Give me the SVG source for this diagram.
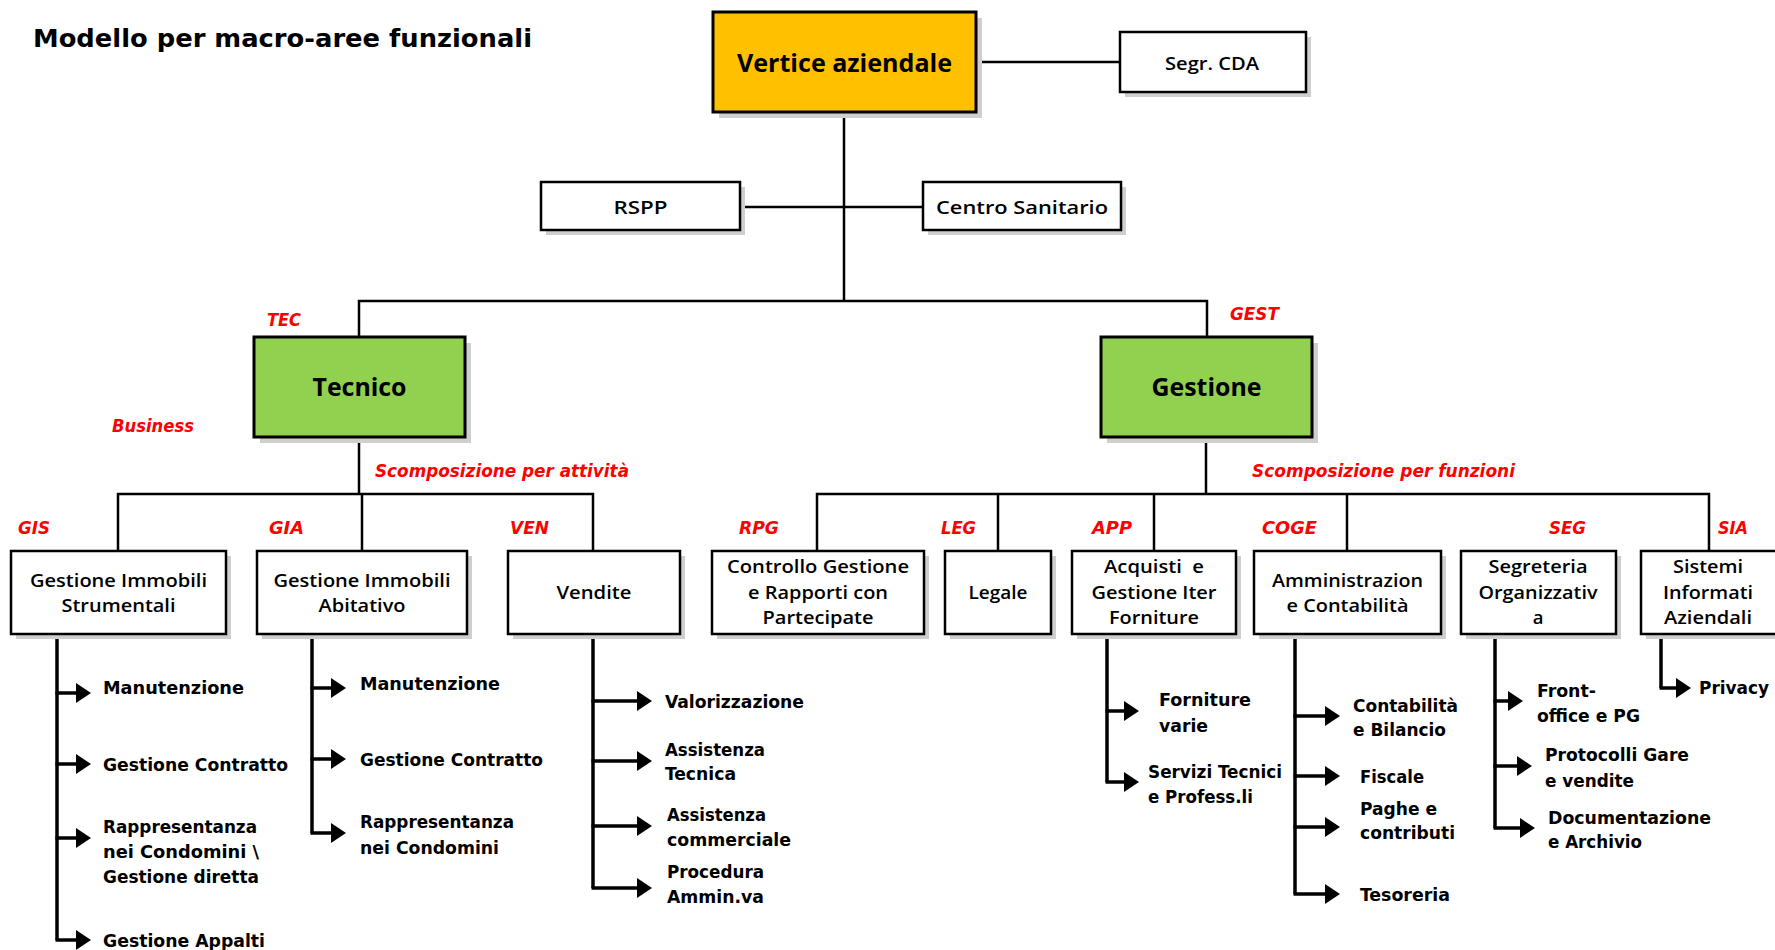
<svg xmlns="http://www.w3.org/2000/svg" width="1775" height="950" viewBox="0 0 1775 950">
<style>
.bg{fill:#fff}
.sh{fill:#cfcfcf}
.box{fill:#fff;stroke:#000;stroke-width:2.5}
.top{fill:#FFC000;stroke:#000;stroke-width:3}
.grn{fill:#92D050;stroke:#000;stroke-width:3}
.ln{fill:none;stroke:#000;stroke-width:2.5}
.br{fill:none;stroke:#000;stroke-width:3.5}
.ar{fill:none;stroke:#000;stroke-width:3.5;marker-end:url(#arr)}
.t{font-family:"Open Sans","Liberation Sans",sans-serif;font-weight:600;font-size:18.5px;fill:#000;text-anchor:middle}
.tb{font-family:"Open Sans","Liberation Sans",sans-serif;font-weight:700;font-size:25px;fill:#000;text-anchor:middle}
.s{font-family:"DejaVu Sans Condensed","DejaVu Sans",sans-serif;font-stretch:condensed;font-weight:bold;font-size:17px;fill:#000}
.r{font-family:"DejaVu Sans Condensed","DejaVu Sans",sans-serif;font-stretch:condensed;font-weight:bold;font-style:italic;font-size:17px;fill:#FF0000}
.ttl{font-family:"DejaVu Sans",sans-serif;font-weight:bold;font-size:25px;fill:#000}
</style>
<defs>
<marker id="arr" markerUnits="userSpaceOnUse" markerWidth="16" markerHeight="22" refX="7" refY="11" orient="auto">
<path d="M0,1 L15,11 L0,21 Z" fill="#000"/>
</marker>
</defs>
<rect class="bg" x="0" y="0" width="1775" height="950"/>
<text class="ttl" x="33" y="47" textLength="499" lengthAdjust="spacingAndGlyphs">Modello per macro-aree funzionali</text>

<g id="connectors">
<path class="ln" d="M976,62 H1120"/>
<path class="ln" d="M844,112 V301"/>
<path class="ln" d="M740,207 H923"/>
<path class="ln" d="M359,337 V301 H1207 V337"/>
<path class="ln" d="M359,437 V494"/>
<path class="ln" d="M118,551 V494 H593 V551"/>
<path class="ln" d="M362,494 V551"/>
<path class="ln" d="M1206,437 V494"/>
<path class="ln" d="M817,551 V494 H1709 V551"/>
<path class="ln" d="M998,494 V551"/>
<path class="ln" d="M1154,494 V551"/>
<path class="ln" d="M1347,494 V551"/>
<!-- GIS -->
<path class="br" d="M57,634 V940"/>
<path class="ar" d="M55.5,693 H83"/>
<path class="ar" d="M55.5,764 H83"/>
<path class="ar" d="M55.5,838 H83"/>
<path class="ar" d="M55.5,940 H83"/>
<!-- GIA -->
<path class="br" d="M312,634 V833"/>
<path class="ar" d="M310.5,688 H338"/>
<path class="ar" d="M310.5,759 H338"/>
<path class="ar" d="M310.5,833 H338"/>
<!-- VEN -->
<path class="br" d="M593,634 V888"/>
<path class="ar" d="M591.5,701 H644"/>
<path class="ar" d="M591.5,761 H644"/>
<path class="ar" d="M591.5,826 H644"/>
<path class="ar" d="M591.5,888 H644"/>
<!-- APP -->
<path class="br" d="M1107,634 V782"/>
<path class="ar" d="M1105.5,711 H1131"/>
<path class="ar" d="M1105.5,782 H1131"/>
<!-- COGE -->
<path class="br" d="M1295,634 V894"/>
<path class="ar" d="M1293.5,716 H1332"/>
<path class="ar" d="M1293.5,776 H1332"/>
<path class="ar" d="M1293.5,827 H1332"/>
<path class="ar" d="M1293.5,894 H1332"/>
<!-- SEG -->
<path class="br" d="M1495,634 V828"/>
<path class="ar" d="M1493.5,701 H1515"/>
<path class="ar" d="M1493.5,766 H1524"/>
<path class="ar" d="M1493.5,828 H1527"/>
<!-- SIA -->
<path class="br" d="M1661,634 V688"/>
<path class="ar" d="M1659.5,688 H1683"/>
</g>

<g id="vertice">
<rect class="sh" x="719" y="18" width="263" height="100"/>
<rect class="top" x="713" y="12" width="263" height="100"/>
<text class="tb" x="844.5" y="72" textLength="215" lengthAdjust="spacingAndGlyphs">Vertice aziendale</text>
</g>
<g id="segr-cda">
<rect class="sh" x="1125" y="37" width="186" height="60"/>
<rect class="box" x="1120" y="32" width="186" height="60"/>
<text class="t" x="1212" y="70" font-size="20" textLength="94" lengthAdjust="spacingAndGlyphs">Segr. CDA</text>
</g>
<g id="rspp">
<rect class="sh" x="546" y="187" width="199" height="48"/>
<rect class="box" x="541" y="182" width="199" height="48"/>
<text class="t" x="640.5" y="214" textLength="54" lengthAdjust="spacingAndGlyphs">RSPP</text>
</g>
<g id="centro-sanitario">
<rect class="sh" x="928" y="187" width="198" height="48"/>
<rect class="box" x="923" y="182" width="198" height="48"/>
<text class="t" x="1022" y="214" textLength="172" lengthAdjust="spacingAndGlyphs">Centro Sanitario</text>
</g>
<g id="tecnico">
<rect class="sh" x="260" y="343" width="211" height="100"/>
<rect class="grn" x="254" y="337" width="211" height="100"/>
<text class="tb" x="359.5" y="396" textLength="94" lengthAdjust="spacingAndGlyphs">Tecnico</text>
<text class="r" x="267" y="326" textLength="34" lengthAdjust="spacingAndGlyphs">TEC</text>
</g>
<g id="gestione">
<rect class="sh" x="1107" y="343" width="211" height="100"/>
<rect class="grn" x="1101" y="337" width="211" height="100"/>
<text class="tb" x="1206.5" y="396" textLength="110" lengthAdjust="spacingAndGlyphs">Gestione</text>
<text class="r" x="1230" y="320" textLength="49" lengthAdjust="spacingAndGlyphs">GEST</text>
</g>
<g id="labels">
<text class="r" x="112" y="432" font-size="18" textLength="82" lengthAdjust="spacingAndGlyphs">Business</text>
<text class="r" x="375" y="477" textLength="254" lengthAdjust="spacingAndGlyphs">Scomposizione per attività</text>
<text class="r" x="1252" y="477" textLength="263" lengthAdjust="spacingAndGlyphs">Scomposizione per funzioni</text>
</g>

<g id="gis">
<rect class="sh" x="16" y="556" width="215" height="83"/>
<rect class="box" x="11" y="551" width="215" height="83"/>
<text class="t" x="118.5" y="587" textLength="177" lengthAdjust="spacingAndGlyphs">Gestione Immobili</text>
<text class="t" x="118.5" y="612" textLength="114" lengthAdjust="spacingAndGlyphs">Strumentali</text>
<text class="r" x="18" y="534" textLength="32" lengthAdjust="spacingAndGlyphs">GIS</text>
<text class="s" x="103" y="694" textLength="141" lengthAdjust="spacingAndGlyphs">Manutenzione</text>
<text class="s" x="103" y="771" textLength="185" lengthAdjust="spacingAndGlyphs">Gestione Contratto</text>
<text class="s" x="103" y="833" textLength="154" lengthAdjust="spacingAndGlyphs">Rappresentanza</text>
<text class="s" x="103" y="858" textLength="156" lengthAdjust="spacingAndGlyphs">nei Condomini \</text>
<text class="s" x="103" y="883" textLength="156" lengthAdjust="spacingAndGlyphs">Gestione diretta</text>
<text class="s" x="103" y="947" textLength="162" lengthAdjust="spacingAndGlyphs">Gestione Appalti</text>
</g>
<g id="gia">
<rect class="sh" x="262" y="556" width="210" height="83"/>
<rect class="box" x="257" y="551" width="210" height="83"/>
<text class="t" x="362" y="587" textLength="177" lengthAdjust="spacingAndGlyphs">Gestione Immobili</text>
<text class="t" x="362" y="612" textLength="87" lengthAdjust="spacingAndGlyphs">Abitativo</text>
<text class="r" x="269" y="534" textLength="35" lengthAdjust="spacingAndGlyphs">GIA</text>
<text class="s" x="360" y="690" textLength="140" lengthAdjust="spacingAndGlyphs">Manutenzione</text>
<text class="s" x="360" y="766" textLength="183" lengthAdjust="spacingAndGlyphs">Gestione Contratto</text>
<text class="s" x="360" y="828" textLength="154" lengthAdjust="spacingAndGlyphs">Rappresentanza</text>
<text class="s" x="360" y="854" textLength="139" lengthAdjust="spacingAndGlyphs">nei Condomini</text>
</g>
<g id="ven">
<rect class="sh" x="513" y="556" width="172" height="83"/>
<rect class="box" x="508" y="551" width="172" height="83"/>
<text class="t" x="594" y="599" textLength="75" lengthAdjust="spacingAndGlyphs">Vendite</text>
<text class="r" x="510" y="534" textLength="39" lengthAdjust="spacingAndGlyphs">VEN</text>
<text class="s" x="665" y="708" textLength="139" lengthAdjust="spacingAndGlyphs">Valorizzazione</text>
<text class="s" x="665" y="756" textLength="100" lengthAdjust="spacingAndGlyphs">Assistenza</text>
<text class="s" x="665" y="780" textLength="71" lengthAdjust="spacingAndGlyphs">Tecnica</text>
<text class="s" x="667" y="821" textLength="99" lengthAdjust="spacingAndGlyphs">Assistenza</text>
<text class="s" x="667" y="846" textLength="124" lengthAdjust="spacingAndGlyphs">commerciale</text>
<text class="s" x="667" y="878" textLength="97" lengthAdjust="spacingAndGlyphs">Procedura</text>
<text class="s" x="667" y="903" textLength="97" lengthAdjust="spacingAndGlyphs">Ammin.va</text>
</g>

<g id="rpg">
<rect class="sh" x="717" y="556" width="212" height="83"/>
<rect class="box" x="712" y="551" width="212" height="83"/>
<text class="t" x="818" y="573" textLength="182" lengthAdjust="spacingAndGlyphs">Controllo Gestione</text>
<text class="t" x="818" y="599" textLength="140" lengthAdjust="spacingAndGlyphs">e Rapporti con</text>
<text class="t" x="818" y="624" textLength="111" lengthAdjust="spacingAndGlyphs">Partecipate</text>
<text class="r" x="739" y="534" textLength="40" lengthAdjust="spacingAndGlyphs">RPG</text>
</g>
<g id="leg">
<rect class="sh" x="950" y="556" width="106" height="83"/>
<rect class="box" x="945" y="551" width="106" height="83"/>
<text class="t" x="998" y="599" textLength="59" lengthAdjust="spacingAndGlyphs">Legale</text>
<text class="r" x="941" y="534" textLength="35" lengthAdjust="spacingAndGlyphs">LEG</text>
</g>
<g id="app">
<rect class="sh" x="1077" y="556" width="164" height="83"/>
<rect class="box" x="1072" y="551" width="164" height="83"/>
<text class="t" x="1154" y="573" textLength="100" lengthAdjust="spacingAndGlyphs" xml:space="preserve">Acquisti  e</text>
<text class="t" x="1154" y="599" textLength="125" lengthAdjust="spacingAndGlyphs">Gestione Iter</text>
<text class="t" x="1154" y="624" textLength="90" lengthAdjust="spacingAndGlyphs">Forniture</text>
<text class="r" x="1092" y="534" textLength="40" lengthAdjust="spacingAndGlyphs">APP</text>
<text class="s" x="1159" y="706" textLength="92" lengthAdjust="spacingAndGlyphs">Forniture</text>
<text class="s" x="1159" y="732" textLength="49" lengthAdjust="spacingAndGlyphs">varie</text>
<text class="s" x="1148" y="778" textLength="134" lengthAdjust="spacingAndGlyphs">Servizi Tecnici</text>
<text class="s" x="1148" y="803" textLength="105" lengthAdjust="spacingAndGlyphs">e Profess.li</text>
</g>
<g id="coge">
<rect class="sh" x="1259" y="556" width="187" height="83"/>
<rect class="box" x="1254" y="551" width="187" height="83"/>
<text class="t" x="1347.5" y="587" textLength="151" lengthAdjust="spacingAndGlyphs">Amministrazion</text>
<text class="t" x="1347.5" y="612" textLength="122" lengthAdjust="spacingAndGlyphs">e Contabilità</text>
<text class="r" x="1262" y="534" textLength="55" lengthAdjust="spacingAndGlyphs">COGE</text>
<text class="s" x="1353" y="712" textLength="105" lengthAdjust="spacingAndGlyphs">Contabilità</text>
<text class="s" x="1353" y="736" textLength="93" lengthAdjust="spacingAndGlyphs">e Bilancio</text>
<text class="s" x="1360" y="783" textLength="64" lengthAdjust="spacingAndGlyphs">Fiscale</text>
<text class="s" x="1360" y="815" textLength="77" lengthAdjust="spacingAndGlyphs">Paghe e</text>
<text class="s" x="1360" y="839" textLength="95" lengthAdjust="spacingAndGlyphs">contributi</text>
<text class="s" x="1360" y="901" textLength="90" lengthAdjust="spacingAndGlyphs">Tesoreria</text>
</g>
<g id="seg">
<rect class="sh" x="1466" y="556" width="155" height="83"/>
<rect class="box" x="1461" y="551" width="155" height="83"/>
<text class="t" x="1538" y="573" textLength="99" lengthAdjust="spacingAndGlyphs">Segreteria</text>
<text class="t" x="1538" y="599" textLength="119" lengthAdjust="spacingAndGlyphs">Organizzativ</text>
<text class="t" x="1538" y="624">a</text>
<text class="r" x="1549" y="534" textLength="37" lengthAdjust="spacingAndGlyphs">SEG</text>
<text class="s" x="1537" y="697" textLength="59" lengthAdjust="spacingAndGlyphs">Front-</text>
<text class="s" x="1537" y="722" textLength="103" lengthAdjust="spacingAndGlyphs">office e PG</text>
<text class="s" x="1545" y="761" textLength="144" lengthAdjust="spacingAndGlyphs">Protocolli Gare</text>
<text class="s" x="1545" y="787" textLength="89" lengthAdjust="spacingAndGlyphs">e vendite</text>
<text class="s" x="1548" y="824" textLength="163" lengthAdjust="spacingAndGlyphs">Documentazione</text>
<text class="s" x="1548" y="848" textLength="94" lengthAdjust="spacingAndGlyphs">e Archivio</text>
</g>
<g id="sia">
<rect class="sh" x="1646" y="556" width="137" height="83"/>
<rect class="box" x="1641" y="551" width="137" height="83"/>
<text class="t" x="1708" y="573" textLength="70" lengthAdjust="spacingAndGlyphs">Sistemi</text>
<text class="t" x="1708" y="599" textLength="90" lengthAdjust="spacingAndGlyphs">Informati</text>
<text class="t" x="1708" y="624" textLength="88" lengthAdjust="spacingAndGlyphs">Aziendali</text>
<text class="r" x="1718" y="534" textLength="30" lengthAdjust="spacingAndGlyphs">SIA</text>
<text class="s" x="1699" y="694" textLength="70" lengthAdjust="spacingAndGlyphs">Privacy</text>
</g>
</svg>
